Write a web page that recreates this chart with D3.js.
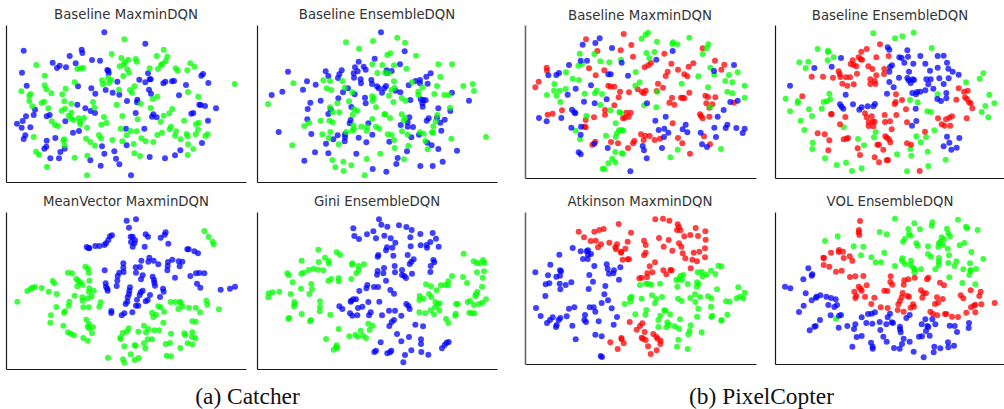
<!DOCTYPE html>
<html>
<head>
<meta charset="utf-8">
<script src="https://cdn.jsdelivr.net/npm/d3@7.9.0/dist/d3.min.js"></script>
<style>
  html, body { margin: 0; padding: 0; background: #fff; }
  svg { display: block; }
  .title { font-family: "DejaVu Sans", sans-serif; font-size: 13.3px; fill: #333; text-anchor: middle; }
  .caption { font-family: "Liberation Serif", serif; font-size: 23.4px; fill: #111; text-anchor: middle; }
</style>
</head>
<body>
<svg id="chart" width="1004" height="409"></svg>
<script>
// embedding coordinates, arbitrary t-SNE units
const catcherMaxminBlue = [[313,97],[436,131],[71,152],[245,149],[247,159],[209,168],[276,180],[300,182],[158,188],[227,190],[179,197],[171,204],[198,202],[66,218],[322,210],[325,212],[326,220],[444,220],[609,222],[604,227],[352,245],[418,239],[449,238],[452,238],[436,247],[496,245],[490,250],[516,244],[522,243],[558,255],[625,249],[80,257],[234,259],[274,265],[317,270],[447,269],[453,281],[286,281],[338,278],[358,284],[537,286],[381,303],[412,299],[411,307],[598,314],[602,315],[615,318],[648,325],[232,314],[105,329],[256,325],[272,333],[285,339],[407,339],[580,339],[574,341],[460,343],[456,350],[470,352],[78,349],[68,363],[101,345],[140,349],[149,345],[196,364],[624,362],[51,371],[65,383],[91,382],[378,386],[433,386],[219,398],[237,393],[76,406],[71,417],[140,422],[166,414],[606,429],[380,436],[306,439],[139,440],[133,446],[194,446],[181,456],[541,451],[343,454],[313,461],[449,471],[525,466],[495,475],[151,475],[177,475],[271,481],[348,476],[358,493],[302,497],[393,526]];
const catcherMaxminGreen = [[373,118],[491,149],[335,162],[470,168],[502,170],[364,174],[385,179],[407,177],[410,185],[375,186],[371,194],[359,199],[497,183],[487,192],[483,195],[571,190],[583,200],[109,195],[232,207],[241,205],[250,204],[382,208],[449,205],[474,207],[527,205],[533,212],[562,211],[387,218],[370,228],[134,227],[324,233],[334,240],[306,241],[327,249],[309,253],[224,247],[134,256],[139,268],[197,266],[154,280],[64,274],[92,282],[88,287],[187,283],[357,269],[403,259],[390,270],[396,278],[564,276],[472,290],[458,297],[595,290],[88,303],[132,305],[125,309],[193,304],[279,306],[97,319],[214,311],[350,314],[422,311],[283,323],[145,325],[195,326],[185,332],[452,324],[517,327],[508,340],[214,338],[206,347],[212,355],[221,360],[236,355],[252,354],[312,351],[367,348],[491,347],[413,358],[552,362],[155,364],[240,365],[241,373],[165,375],[174,378],[319,369],[304,374],[482,365],[261,383],[362,386],[392,393],[410,394],[513,380],[509,388],[528,394],[588,373],[596,368],[594,389],[704,252],[101,411],[297,405],[303,415],[380,406],[472,405],[486,398],[525,407],[542,418],[560,402],[563,409],[587,403],[616,408],[623,403],[258,416],[271,426],[337,420],[367,424],[424,415],[437,424],[460,426],[193,418],[190,422],[194,436],[285,437],[401,432],[564,433],[580,447],[108,455],[117,464],[224,473],[262,467],[403,460],[420,468],[563,465],[141,501],[261,526]];

const catcherEnsembleBlue = [[393,97],[464,154],[374,176],[326,185],[450,193],[315,202],[341,200],[347,209],[323,214],[311,220],[275,211],[227,214],[268,223],[264,234],[235,228],[114,215],[410,211],[425,213],[411,219],[542,220],[529,230],[312,233],[332,238],[333,250],[364,240],[366,252],[381,259],[171,244],[197,254],[294,265],[279,277],[386,265],[396,278],[403,265],[408,258],[497,243],[510,240],[510,250],[476,256],[533,251],[159,269],[97,275],[65,285],[314,283],[265,295],[345,293],[347,310],[437,272],[451,277],[481,300],[512,298],[520,300],[527,301],[517,310],[518,320],[606,278],[657,302],[212,302],[181,308],[173,327],[242,328],[304,321],[235,342],[565,325],[601,333],[172,358],[302,360],[299,370],[355,370],[478,352],[473,367],[452,375],[473,380],[489,381],[536,355],[530,362],[561,353],[571,368],[584,359],[86,396],[184,402],[574,392],[263,406],[285,403],[250,418],[285,412],[284,424],[326,413],[367,404],[507,404],[484,412],[228,431],[349,427],[418,425],[532,428],[545,436],[565,447],[621,452],[195,457],[235,460],[319,461],[443,474],[471,454],[163,482],[439,492],[578,485],[548,498],[511,498],[368,507],[409,515]];
const catcherEnsembleGreen = [[442,113],[369,123],[465,128],[288,127],[327,146],[421,160],[412,165],[498,167],[565,193],[606,193],[367,193],[397,195],[432,196],[469,206],[382,219],[405,218],[416,220],[571,230],[130,250],[220,241],[240,243],[277,243],[432,244],[486,247],[561,258],[640,258],[668,252],[672,273],[230,265],[244,270],[284,263],[307,277],[434,263],[424,270],[517,262],[505,275],[505,285],[553,282],[583,285],[596,285],[417,287],[367,289],[371,295],[455,294],[467,302],[297,304],[367,303],[262,310],[430,306],[54,312],[240,322],[378,322],[600,323],[248,337],[268,337],[312,328],[322,332],[308,344],[403,343],[406,343],[420,354],[455,343],[466,354],[461,362],[557,364],[562,345],[212,362],[238,362],[248,367],[367,357],[177,369],[163,378],[550,379],[310,376],[312,387],[334,380],[351,381],[378,380],[388,386],[350,392],[546,397],[241,396],[217,403],[289,396],[307,392],[413,403],[425,405],[456,394],[473,404],[510,397],[521,401],[549,398],[236,414],[604,416],[708,411],[432,420],[526,423],[127,436],[266,433],[475,437],[434,444],[533,448],[391,461],[247,480],[280,485],[350,477],[462,478],[304,496],[256,502],[281,513],[344,526]];

const catcherMeanVectorBlue = [[380,92],[408,88],[387,113],[336,136],[330,139],[325,150],[318,160],[313,165],[298,168],[286,168],[268,174],[260,171],[266,175],[437,133],[444,140],[497,127],[494,134],[482,143],[505,161],[392,140],[398,140],[405,151],[393,156],[403,160],[398,170],[434,170],[562,178],[566,178],[583,184],[594,190],[448,203],[424,212],[445,215],[461,212],[475,223],[517,209],[504,216],[503,228],[502,241],[536,214],[547,215],[539,229],[370,220],[370,233],[407,232],[420,231],[371,246],[358,248],[314,241],[353,258],[352,272],[408,248],[428,256],[423,268],[525,263],[458,260],[462,270],[463,278],[465,287],[571,258],[588,250],[598,249],[613,250],[591,281],[601,293],[317,280],[318,290],[322,296],[323,302],[350,288],[390,292],[388,302],[387,312],[383,322],[382,335],[377,342],[428,302],[422,307],[419,315],[411,329],[450,315],[437,334],[443,330],[489,296],[491,305],[480,321],[408,347],[415,347],[397,367],[373,370],[365,376],[334,363],[334,369],[662,299],[690,296],[705,290]];
const catcherMeanVectorGreen = [[613,123],[626,140],[638,155],[641,163],[256,230],[264,236],[266,248],[204,248],[216,250],[268,272],[229,267],[234,272],[240,277],[247,284],[232,289],[158,273],[163,280],[125,294],[105,291],[97,293],[92,297],[82,303],[146,305],[170,312],[52,335],[281,302],[268,295],[267,306],[224,317],[247,322],[263,325],[275,319],[248,332],[302,337],[298,350],[208,335],[206,347],[169,351],[250,352],[266,352],[195,364],[192,368],[153,376],[151,398],[259,389],[267,402],[263,410],[279,412],[268,415],[276,430],[190,407],[204,427],[212,431],[222,436],[250,444],[263,452],[512,336],[526,336],[540,335],[543,340],[547,350],[535,357],[475,349],[482,352],[567,353],[587,353],[600,367],[619,332],[622,344],[657,358],[456,368],[468,374],[460,381],[492,365],[490,398],[577,394],[587,395],[432,407],[386,415],[380,425],[368,429],[361,443],[362,447],[415,425],[445,417],[438,427],[463,421],[477,421],[443,448],[456,448],[513,431],[553,430],[556,436],[577,427],[576,441],[586,444],[432,460],[404,466],[407,467],[373,469],[436,475],[497,462],[510,459],[541,474],[563,460],[577,463],[392,493],[500,497],[513,499],[324,503],[369,508],[373,518],[404,510],[416,504]];

const catcherGiniBlue = [[387,88],[394,104],[447,106],[412,110],[469,111],[310,115],[485,120],[370,124],[351,133],[403,137],[313,138],[327,147],[378,145],[422,145],[436,158],[511,132],[548,129],[481,142],[558,146],[541,156],[530,165],[512,166],[531,173],[566,170],[482,169],[411,172],[408,181],[427,173],[385,195],[383,200],[430,197],[473,195],[491,208],[484,215],[479,222],[550,210],[553,217],[542,228],[541,246],[434,228],[402,234],[383,243],[381,254],[400,250],[435,247],[456,240],[456,255],[463,258],[468,264],[486,251],[408,272],[352,285],[349,295],[372,291],[384,291],[328,303],[421,300],[432,311],[310,328],[304,332],[302,335],[318,328],[355,336],[388,335],[268,349],[277,357],[324,354],[337,350],[469,342],[475,348],[479,357],[300,370],[307,377],[322,376],[362,367],[357,376],[417,362],[435,362],[396,376],[454,377],[432,390],[425,396],[418,408],[496,404],[519,409],[441,432],[477,441],[454,454],[392,457],[513,448],[513,462],[596,456],[590,458],[584,465],[576,475],[378,482],[373,486],[424,482],[420,487],[412,490],[484,481],[514,486],[535,494],[465,495],[460,517]];
const catcherGiniGreen = [[205,179],[260,187],[270,194],[641,191],[225,203],[236,213],[237,221],[206,216],[155,212],[671,214],[680,219],[690,220],[699,210],[704,218],[307,220],[306,224],[326,228],[342,223],[326,241],[319,250],[220,241],[204,239],[190,236],[176,240],[161,248],[154,251],[112,250],[117,256],[681,247],[702,244],[606,258],[639,261],[698,263],[304,267],[266,264],[266,274],[244,267],[235,272],[128,277],[595,274],[585,285],[594,286],[572,286],[560,301],[543,289],[528,283],[651,279],[184,282],[186,298],[153,296],[696,290],[56,310],[68,307],[55,322],[88,305],[122,312],[178,312],[682,306],[676,319],[678,313],[537,312],[544,321],[509,318],[520,326],[508,330],[708,328],[660,333],[653,336],[210,334],[133,336],[134,342],[132,349],[210,350],[209,364],[556,336],[563,343],[569,340],[618,342],[623,342],[672,345],[687,342],[697,338],[555,352],[542,361],[568,361],[508,367],[526,370],[552,373],[617,371],[616,377],[658,368],[665,370],[673,370],[155,372],[241,374],[118,384],[115,386],[183,390],[180,394],[588,387],[595,399],[355,401],[368,407],[359,419],[266,417],[332,422],[316,435],[323,440],[339,437],[348,444],[298,439],[228,447],[260,466],[258,472],[251,479],[262,474]];

const copterMaxminRed = [[326,102],[213,118],[349,135],[317,151],[247,153],[563,145],[448,161],[354,170],[600,182],[469,191],[535,190],[521,200],[408,189],[400,196],[389,202],[628,194],[95,203],[96,212],[222,205],[268,211],[489,209],[619,209],[458,215],[452,228],[508,223],[517,229],[242,226],[71,245],[61,262],[280,257],[287,260],[298,260],[315,275],[342,277],[368,268],[381,276],[392,272],[387,280],[429,251],[444,263],[425,273],[523,278],[311,292],[471,293],[498,293],[503,293],[508,295],[571,287],[579,291],[601,292],[463,308],[478,314],[574,310],[592,313],[583,323],[657,308],[298,316],[270,330],[270,344],[141,331],[113,341],[98,344],[212,360],[237,352],[334,338],[347,338],[341,350],[330,353],[324,355],[555,343],[558,348],[563,355],[583,350],[473,370],[208,380],[212,382],[378,403],[391,407],[404,408],[419,420],[435,416],[489,414],[567,409],[288,426],[309,430],[241,425],[232,434],[358,423],[354,430],[386,420],[502,430],[585,433],[339,444],[525,461]];
const copterMaxminGreen = [[399,98],[392,104],[380,116],[426,125],[523,113],[474,127],[472,132],[487,133],[580,133],[575,145],[563,162],[194,161],[238,162],[394,159],[418,156],[403,174],[256,184],[283,187],[318,179],[201,192],[190,197],[586,203],[153,217],[362,216],[598,224],[642,225],[668,217],[550,229],[173,236],[192,240],[631,243],[652,247],[374,247],[361,257],[118,252],[500,251],[689,257],[579,262],[117,272],[134,272],[152,267],[96,285],[125,287],[209,281],[240,280],[245,272],[261,282],[427,275],[637,275],[652,280],[689,293],[136,306],[256,315],[387,316],[424,322],[286,331],[313,336],[317,339],[214,348],[585,322],[302,370],[320,390],[312,391],[325,392],[182,392],[306,400],[302,411],[273,407],[195,418],[618,447],[488,449],[301,456],[320,460],[324,461],[466,472],[292,476],[280,490],[301,487],[263,506],[268,507]];
const copterMaxminBlue = [[254,115],[241,129],[203,134],[291,144],[473,153],[424,179],[320,188],[197,182],[216,182],[162,195],[132,219],[124,225],[100,226],[597,213],[657,195],[280,223],[287,223],[339,227],[228,256],[182,266],[158,284],[275,298],[207,305],[239,310],[396,310],[646,306],[668,302],[626,330],[171,329],[178,337],[181,340],[139,354],[72,354],[95,364],[452,350],[608,350],[421,362],[169,383],[198,380],[512,374],[431,390],[448,386],[503,388],[460,398],[447,411],[517,397],[557,398],[598,383],[637,374],[632,384],[664,384],[689,386],[683,399],[603,411],[197,404],[238,431],[278,444],[383,438],[387,451],[441,444],[561,433],[576,441],[191,457],[197,463],[395,475],[346,514]];

const copterEnsembleGreen = [[325,100],[446,98],[412,109],[390,115],[500,144],[158,147],[189,152],[189,156],[206,172],[188,181],[103,187],[130,185],[122,204],[655,220],[644,236],[603,247],[518,283],[193,281],[196,298],[186,304],[176,306],[62,296],[99,303],[98,309],[435,300],[458,307],[673,284],[688,310],[661,318],[650,336],[75,334],[132,328],[170,326],[487,334],[498,336],[141,348],[670,352],[107,362],[118,390],[236,382],[508,391],[332,396],[327,412],[454,409],[483,411],[279,417],[467,427],[143,428],[142,447],[297,436],[436,447],[396,463],[439,467],[488,455],[180,475],[542,479],[243,488],[215,495],[490,498],[290,505],[261,513],[426,514]];
const copterEnsembleRed = [[345,133],[305,147],[289,155],[371,168],[334,172],[281,172],[287,178],[291,179],[263,181],[257,192],[266,195],[274,199],[310,199],[322,207],[221,214],[224,222],[226,231],[276,221],[358,207],[357,222],[334,226],[140,230],[174,230],[204,233],[243,232],[255,232],[232,251],[247,257],[266,253],[316,238],[316,252],[331,252],[329,243],[581,265],[597,275],[608,272],[393,283],[112,289],[600,292],[606,297],[574,299],[612,307],[617,310],[622,325],[411,300],[392,306],[389,312],[423,328],[300,340],[305,352],[320,349],[323,365],[329,365],[311,367],[311,378],[325,379],[198,343],[200,342],[241,351],[225,373],[359,345],[394,345],[360,366],[375,364],[380,388],[426,367],[480,395],[519,355],[543,358],[553,353],[561,349],[605,355],[530,373],[539,377],[556,377],[158,400],[179,403],[193,421],[190,451],[236,418],[245,416],[249,414],[278,445],[285,465],[361,409],[366,413],[372,418],[376,427],[337,434],[342,434],[355,449],[426,430],[438,434],[329,472],[342,487],[365,481],[369,480],[464,513]];
const copterEnsembleBlue = [[368,142],[373,149],[427,151],[228,174],[148,204],[200,200],[403,172],[410,174],[429,170],[466,168],[518,168],[536,167],[418,188],[445,191],[381,196],[375,201],[373,215],[481,191],[546,188],[518,203],[550,206],[563,215],[581,224],[495,212],[432,215],[402,233],[427,234],[431,241],[437,249],[443,238],[447,240],[373,246],[386,262],[484,238],[497,238],[523,235],[551,235],[490,253],[536,252],[505,266],[75,257],[442,279],[453,283],[456,276],[466,275],[481,271],[544,279],[366,281],[242,284],[544,295],[517,297],[528,303],[225,313],[230,320],[235,326],[264,313],[290,322],[283,329],[308,319],[325,319],[330,312],[452,326],[454,363],[441,377],[546,410],[583,414],[553,428],[536,439],[559,449],[575,443]];

const copterAtkinsonRed = [[421,88],[444,86],[463,92],[311,102],[488,103],[492,112],[486,120],[496,121],[266,117],[253,120],[238,125],[191,125],[348,128],[542,114],[571,124],[526,135],[549,138],[508,139],[207,142],[432,144],[572,149],[461,150],[227,153],[242,152],[258,163],[249,172],[283,158],[306,163],[338,155],[387,152],[392,165],[492,160],[301,172],[303,178],[331,176],[319,185],[318,188],[446,170],[472,182],[499,170],[503,190],[570,175],[553,185],[536,188],[570,202],[392,188],[387,196],[323,209],[338,208],[342,208],[511,205],[532,209],[546,214],[420,217],[404,229],[527,235],[412,247],[445,241],[454,253],[466,240],[470,241],[397,250],[396,262],[373,265],[380,263],[344,396],[382,400],[375,408],[365,419],[389,426],[415,432],[424,440],[380,443],[384,446],[392,450],[428,446],[437,452],[436,462],[319,444],[320,448],[326,460],[286,457],[399,469],[308,477],[425,481],[407,492]];
const copterAtkinsonGreen = [[610,227],[619,229],[588,242],[601,252],[574,254],[548,247],[560,246],[562,259],[505,255],[496,258],[491,268],[484,270],[501,270],[546,277],[545,290],[551,282],[518,282],[487,290],[435,281],[375,285],[392,281],[400,281],[409,284],[670,292],[606,298],[689,308],[675,320],[685,325],[665,325],[633,334],[644,335],[540,313],[555,321],[579,319],[589,325],[526,324],[489,326],[500,333],[541,336],[350,320],[345,324],[380,326],[411,316],[441,321],[424,327],[420,340],[329,342],[346,335],[588,350],[550,356],[394,360],[361,373],[391,374],[448,361],[451,362],[465,373],[436,377],[430,390],[495,388],[546,380],[592,377],[589,381],[637,374],[620,390],[619,392],[457,397],[461,404],[479,409],[430,411],[454,412],[527,406],[492,416],[524,423],[520,433],[560,427],[490,449],[486,470],[518,477]];
const copterAtkinsonBlue = [[173,174],[133,194],[197,184],[215,184],[219,181],[228,192],[219,194],[204,207],[218,207],[106,224],[238,228],[275,223],[278,237],[316,232],[297,241],[295,250],[282,251],[61,247],[99,256],[135,241],[138,244],[124,260],[135,257],[223,255],[312,269],[103,280],[92,283],[134,281],[169,277],[152,285],[234,275],[136,298],[221,297],[271,288],[91,318],[268,313],[279,331],[260,339],[63,354],[162,356],[178,352],[224,352],[236,352],[241,365],[290,355],[77,378],[113,382],[155,379],[210,375],[306,381],[208,390],[213,396],[251,394],[136,384],[131,390],[105,390],[96,399],[125,405],[123,411],[172,407],[296,404],[241,434],[260,439],[182,448],[257,498],[261,501]];

const copterVolGreen = [[390,86],[579,89],[448,100],[502,97],[500,107],[603,110],[606,115],[465,118],[430,117],[546,116],[638,120],[344,126],[365,133],[218,139],[432,132],[437,137],[550,130],[555,139],[180,153],[420,146],[414,155],[530,142],[537,148],[526,155],[522,160],[520,170],[534,165],[598,159],[584,166],[295,170],[266,169],[454,160],[458,167],[489,169],[548,176],[619,186],[358,188],[288,196],[489,192],[498,200],[552,196],[319,202],[655,207],[412,205],[522,204],[438,212],[332,217],[348,217],[411,213],[420,222],[521,215],[574,214],[550,219],[615,220],[390,228],[436,225],[445,233],[521,226],[569,228],[595,238],[617,240],[616,243],[633,237],[449,238],[468,238],[511,238],[448,247],[613,255],[553,262],[592,279],[631,283],[213,386]];
const copterVolRed = [[285,93],[282,120],[281,127],[283,135],[222,180],[221,186],[234,185],[198,188],[254,199],[262,212],[236,204],[175,203],[177,204],[176,225],[193,230],[213,245],[230,242],[255,261],[271,259],[295,258],[377,259],[376,276],[382,284],[418,271],[430,268],[449,263],[416,284],[490,263],[486,268],[525,278],[537,286],[281,290],[287,296],[290,302],[305,286],[268,305],[274,318],[271,324],[300,320],[328,323],[319,342],[358,302],[367,303],[413,309],[410,322],[427,318],[432,320],[405,333],[400,343],[398,360],[416,365],[347,352],[368,354],[468,301],[475,309],[483,310],[472,323],[516,322],[533,327],[519,338],[510,342],[444,343],[437,353],[447,350],[617,301],[647,305],[643,318],[587,316],[595,325],[689,339],[649,343],[631,344],[627,347],[618,352],[631,367],[604,368],[496,365],[504,372],[517,376],[540,372],[544,372],[561,380],[579,381]];
const copterVolBlue = [[130,235],[142,253],[140,257],[115,268],[60,290],[76,295],[122,310],[166,316],[155,320],[153,323],[140,331],[184,320],[198,324],[212,328],[216,345],[208,351],[190,345],[116,347],[102,366],[228,375],[222,377],[197,376],[165,390],[152,408],[148,410],[134,421],[221,413],[247,408],[271,403],[267,417],[275,441],[290,438],[290,382],[309,372],[320,371],[330,367],[375,371],[368,382],[304,399],[322,401],[344,396],[380,397],[384,399],[364,403],[346,420],[355,440],[365,455],[434,375],[424,384],[405,410],[405,418],[407,427],[470,403],[481,388],[502,388],[511,403],[487,408],[490,411],[483,423],[494,437],[471,439],[462,440],[554,407],[569,408],[576,426],[612,399],[611,414],[416,446],[434,455],[411,462],[318,458],[323,470],[323,476],[262,470],[387,474],[404,476],[446,485],[508,470],[526,475],[506,487],[549,457],[550,472],[567,467],[476,502]];

const BLUE = "#0000ff", GREEN = "#00ff00", RED = "#ff0000";
const UNITS_PER_PX = 3; // embedding units span three times the pixels

const panels = [
  { title: "Baseline MaxminDQN", ox: 0, oy: 0, left: 6, right: 246, top: 25, bottom: 182, titleX: 126, titleY: 14,
    series: [[catcherMaxminBlue, BLUE], [catcherMaxminGreen, GREEN]] },
  { title: "Baseline EnsembleDQN", ox: 250, oy: 0, left: 257, right: 497, top: 25, bottom: 182, titleX: 377, titleY: 14,
    series: [[catcherEnsembleBlue, BLUE], [catcherEnsembleGreen, GREEN]] },
  { title: "MeanVector MaxminDQN", ox: 0, oy: 190, left: 6, right: 246, top: 212, bottom: 369, titleX: 126, titleY: 201,
    series: [[catcherMeanVectorBlue, BLUE], [catcherMeanVectorGreen, GREEN]] },
  { title: "Gini EnsembleDQN", ox: 250, oy: 190, left: 257, right: 497, top: 212, bottom: 369, titleX: 377, titleY: 201,
    series: [[catcherGiniBlue, BLUE], [catcherGiniGreen, GREEN]] },
  { title: "Baseline MaxminDQN", ox: 515, oy: 0, left: 525, right: 756, top: 25, bottom: 178, titleX: 640, titleY: 15, yAxisColor: "#666",
    series: [[copterMaxminRed, RED], [copterMaxminGreen, GREEN], [copterMaxminBlue, BLUE]] },
  { title: "Baseline EnsembleDQN", ox: 765, oy: 0, left: 775, right: 1004, top: 25, bottom: 178, titleX: 890, titleY: 15,
    series: [[copterEnsembleGreen, GREEN], [copterEnsembleRed, RED], [copterEnsembleBlue, BLUE]] },
  { title: "Atkinson MaxminDQN", ox: 515, oy: 190, left: 525, right: 756, top: 212, bottom: 364, titleX: 640, titleY: 201, yAxisColor: "#666",
    series: [[copterAtkinsonRed, RED], [copterAtkinsonGreen, GREEN], [copterAtkinsonBlue, BLUE]] },
  { title: "VOL EnsembleDQN", ox: 765, oy: 190, left: 775, right: 1004, top: 212, bottom: 364, titleX: 890, titleY: 201,
    series: [[copterVolGreen, GREEN], [copterVolRed, RED], [copterVolBlue, BLUE]] }
];

const captions = [
  { text: "(a) Catcher", x: 247.5, y: 403.8 },
  { text: "(b) PixelCopter", x: 761.5, y: 403.8 }
];

const svg = d3.select("#chart");

// the reference is a downscaled raster, the dots are slightly soft
svg.append("defs").append("filter")
  .attr("id", "soft")
  .append("feGaussianBlur")
  .attr("stdDeviation", 0.35);

panels.forEach((p) => {
  const x = d3.scaleLinear()
    .domain([(p.left - p.ox) * UNITS_PER_PX, (p.right - p.ox) * UNITS_PER_PX])
    .range([p.left, p.right]);
  const y = d3.scaleLinear()
    .domain([(p.top - p.oy) * UNITS_PER_PX, (p.bottom - p.oy) * UNITS_PER_PX])
    .range([p.top, p.bottom]);

  const g = svg.append("g");
  const dots = g.append("g").attr("filter", "url(#soft)");

  p.series.forEach(([points, color]) => {
    dots.append("g").selectAll("circle")
      .data(points)
      .join("circle")
      .attr("cx", (d) => x(d[0]))
      .attr("cy", (d) => y(d[1]))
      .attr("r", 3)
      .attr("fill", color)
      .attr("fill-opacity", 0.75);
  });

  const xAxis = d3.axisBottom(x).tickValues([]).tickSizeOuter(0);
  const yAxis = d3.axisLeft(y).tickValues([]).tickSizeOuter(0);

  g.append("g")
    .attr("transform", `translate(0,${p.bottom})`)
    .call(xAxis)
    .select(".domain")
    .attr("stroke", "#1a1a1a")
    .attr("stroke-width", 1.2);

  g.append("g")
    .attr("transform", `translate(${p.left},0)`)
    .call(yAxis)
    .select(".domain")
    .attr("stroke", p.yAxisColor || "#1a1a1a")
    .attr("stroke-width", p.yAxisColor ? 1.6 : 1.2);

  g.append("text")
    .attr("class", "title")
    .attr("x", p.titleX)
    .attr("y", p.titleY)
    .attr("dy", "0.35em")
    .text(p.title);
});

svg.selectAll(".caption")
  .data(captions)
  .join("text")
  .attr("class", "caption")
  .attr("x", (d) => d.x)
  .attr("y", (d) => d.y)
  .text((d) => d.text);
</script>
</body>
</html>
